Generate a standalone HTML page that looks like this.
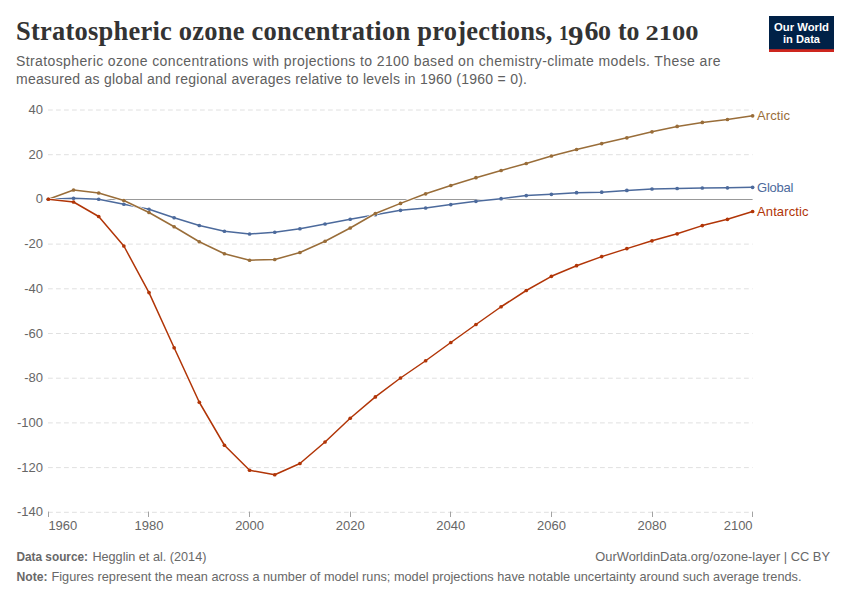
<!DOCTYPE html>
<html><head><meta charset="utf-8"><title>Stratospheric ozone concentration projections, 1960 to 2100</title>
<style>
html,body{margin:0;padding:0;background:#fff;}
body{width:850px;height:600px;overflow:hidden;font-family:"Liberation Sans",sans-serif;}
svg{display:block;}
text{font-family:"Liberation Sans",sans-serif;}
.serif text{font-family:"Liberation Serif",serif;}
</style></head><body>
<svg width="850" height="600" viewBox="0 0 850 600">
<rect width="850" height="600" fill="#fff"/>
<g class="serif" font-weight="bold" fill="#333" font-size="26.5">
<text x="16" y="40" textLength="536.4" lengthAdjust="spacing">Stratospheric ozone concentration projections,</text>
<text x="559" y="40" font-size="20" textLength="9.5" lengthAdjust="spacingAndGlyphs">1</text>
<text x="568" y="44.5" textLength="15.5" lengthAdjust="spacingAndGlyphs">9</text>
<text x="584.5" y="40" textLength="14" lengthAdjust="spacingAndGlyphs">6</text>
<text x="598" y="40" font-size="20" textLength="13" lengthAdjust="spacingAndGlyphs">0</text>
<text x="618" y="40" textLength="21.5" lengthAdjust="spacingAndGlyphs">to</text>
<text x="645.5" y="40" font-size="20" textLength="53" lengthAdjust="spacingAndGlyphs">2100</text>
</g>
<g font-size="14" fill="#606060">
<text x="16" y="66" textLength="704.5" lengthAdjust="spacing">Stratospheric ozone concentrations with projections to 2100 based on chemistry-climate models. These are</text>
<text x="16" y="84" textLength="511" lengthAdjust="spacing">measured as global and regional averages relative to levels in 1960 (1960 = 0).</text>
</g>
<!-- logo -->
<rect x="769" y="16" width="65" height="36" fill="#002147"/>
<rect x="769" y="49.2" width="65" height="2.8" fill="#ce261e"/>
<g font-size="11.6" font-weight="bold" fill="#fff" text-anchor="middle">
<text x="801.5" y="31" textLength="55" lengthAdjust="spacingAndGlyphs">Our World</text>
<text x="801.5" y="43" textLength="37" lengthAdjust="spacingAndGlyphs">in Data</text>
</g>
<!-- grid -->
<line x1="48" x2="752.6" y1="110.0" y2="110.0" stroke="#e0e0e0" stroke-width="1" stroke-dasharray="4.8,3.2"/>
<line x1="48" x2="752.6" y1="154.7" y2="154.7" stroke="#e0e0e0" stroke-width="1" stroke-dasharray="4.8,3.2"/>
<line x1="48" x2="752.6" y1="199.5" y2="199.5" stroke="#999" stroke-width="1"/>
<line x1="48" x2="752.6" y1="244.1" y2="244.1" stroke="#e0e0e0" stroke-width="1" stroke-dasharray="4.8,3.2"/>
<line x1="48" x2="752.6" y1="288.8" y2="288.8" stroke="#e0e0e0" stroke-width="1" stroke-dasharray="4.8,3.2"/>
<line x1="48" x2="752.6" y1="333.5" y2="333.5" stroke="#e0e0e0" stroke-width="1" stroke-dasharray="4.8,3.2"/>
<line x1="48" x2="752.6" y1="378.2" y2="378.2" stroke="#e0e0e0" stroke-width="1" stroke-dasharray="4.8,3.2"/>
<line x1="48" x2="752.6" y1="422.9" y2="422.9" stroke="#e0e0e0" stroke-width="1" stroke-dasharray="4.8,3.2"/>
<line x1="48" x2="752.6" y1="467.6" y2="467.6" stroke="#e0e0e0" stroke-width="1" stroke-dasharray="4.8,3.2"/>
<line x1="48" x2="752.6" y1="512.3" y2="512.3" stroke="#e0e0e0" stroke-width="1" stroke-dasharray="4.8,3.2"/>

<g font-size="13" fill="#666">
<text x="43" y="114.0" text-anchor="end">40</text>
<text x="43" y="158.7" text-anchor="end">20</text>
<text x="43" y="203.4" text-anchor="end">0</text>
<text x="43" y="248.1" text-anchor="end">-20</text>
<text x="43" y="292.8" text-anchor="end">-40</text>
<text x="43" y="337.5" text-anchor="end">-60</text>
<text x="43" y="382.2" text-anchor="end">-80</text>
<text x="43" y="426.9" text-anchor="end">-100</text>
<text x="43" y="471.6" text-anchor="end">-120</text>
<text x="43" y="516.3" text-anchor="end">-140</text>

<line x1="48.5" x2="48.5" y1="511.6" y2="517" stroke="#a3a3a3" stroke-width="1"/>
<text x="48.4" y="530" text-anchor="start">1960</text>
<line x1="148.5" x2="148.5" y1="511.6" y2="517" stroke="#a3a3a3" stroke-width="1"/>
<text x="149.0" y="530" text-anchor="middle">1980</text>
<line x1="249.5" x2="249.5" y1="511.6" y2="517" stroke="#a3a3a3" stroke-width="1"/>
<text x="249.6" y="530" text-anchor="middle">2000</text>
<line x1="350.5" x2="350.5" y1="511.6" y2="517" stroke="#a3a3a3" stroke-width="1"/>
<text x="350.2" y="530" text-anchor="middle">2020</text>
<line x1="450.5" x2="450.5" y1="511.6" y2="517" stroke="#a3a3a3" stroke-width="1"/>
<text x="450.8" y="530" text-anchor="middle">2040</text>
<line x1="551.5" x2="551.5" y1="511.6" y2="517" stroke="#a3a3a3" stroke-width="1"/>
<text x="551.4" y="530" text-anchor="middle">2060</text>
<line x1="652.5" x2="652.5" y1="511.6" y2="517" stroke="#a3a3a3" stroke-width="1"/>
<text x="652.0" y="530" text-anchor="middle">2080</text>
<line x1="752.5" x2="752.5" y1="511.6" y2="517" stroke="#a3a3a3" stroke-width="1"/>
<text x="752.6" y="530" text-anchor="end">2100</text>

</g>
<polyline fill="none" stroke="#fff" stroke-width="3" stroke-linejoin="round" stroke-linecap="round" points="48.4,199.25 73.55,198.25 98.7,199.25 123.85,204.25 149.0,209.25 174.15,217.75 199.3,225.5 224.45,231.25 249.6,234 274.75,232.25 299.9,228.75 325.05,224 350.2,219.25 375.35,214.75 400.5,210.3 425.65,208 450.8,204.6 475.95,201.3 501.1,198.7 526.25,195.6 551.4,194.3 576.55,192.7 601.7,192.2 626.85,190.4 652.0,189.0 677.15,188.5 702.3,188 727.45,187.8 752.6,187.3"/>
<polyline fill="none" stroke="#4c6a9c" stroke-width="1.5" stroke-linejoin="round" stroke-linecap="round" points="48.4,199.25 73.55,198.25 98.7,199.25 123.85,204.25 149.0,209.25 174.15,217.75 199.3,225.5 224.45,231.25 249.6,234 274.75,232.25 299.9,228.75 325.05,224 350.2,219.25 375.35,214.75 400.5,210.3 425.65,208 450.8,204.6 475.95,201.3 501.1,198.7 526.25,195.6 551.4,194.3 576.55,192.7 601.7,192.2 626.85,190.4 652.0,189.0 677.15,188.5 702.3,188 727.45,187.8 752.6,187.3"/>
<g fill="#4c6a9c"><circle cx="48.4" cy="199.25" r="1.85"/><circle cx="73.55" cy="198.25" r="1.85"/><circle cx="98.7" cy="199.25" r="1.85"/><circle cx="123.85" cy="204.25" r="1.85"/><circle cx="149.0" cy="209.25" r="1.85"/><circle cx="174.15" cy="217.75" r="1.85"/><circle cx="199.3" cy="225.5" r="1.85"/><circle cx="224.45" cy="231.25" r="1.85"/><circle cx="249.6" cy="234" r="1.85"/><circle cx="274.75" cy="232.25" r="1.85"/><circle cx="299.9" cy="228.75" r="1.85"/><circle cx="325.05" cy="224" r="1.85"/><circle cx="350.2" cy="219.25" r="1.85"/><circle cx="375.35" cy="214.75" r="1.85"/><circle cx="400.5" cy="210.3" r="1.85"/><circle cx="425.65" cy="208" r="1.85"/><circle cx="450.8" cy="204.6" r="1.85"/><circle cx="475.95" cy="201.3" r="1.85"/><circle cx="501.1" cy="198.7" r="1.85"/><circle cx="526.25" cy="195.6" r="1.85"/><circle cx="551.4" cy="194.3" r="1.85"/><circle cx="576.55" cy="192.7" r="1.85"/><circle cx="601.7" cy="192.2" r="1.85"/><circle cx="626.85" cy="190.4" r="1.85"/><circle cx="652.0" cy="189.0" r="1.85"/><circle cx="677.15" cy="188.5" r="1.85"/><circle cx="702.3" cy="188" r="1.85"/><circle cx="727.45" cy="187.8" r="1.85"/><circle cx="752.6" cy="187.3" r="1.85"/></g>

<polyline fill="none" stroke="#fff" stroke-width="3" stroke-linejoin="round" stroke-linecap="round" points="48.4,199.25 73.55,190 98.7,193 123.85,200.5 149.0,212.5 174.15,226.75 199.3,241.75 224.45,253.75 249.6,260.25 274.75,259.5 299.9,252.5 325.05,241.25 350.2,228 375.35,213.5 400.5,203.4 425.65,193.8 450.8,185.5 475.95,177.7 501.1,170.5 526.25,163.5 551.4,156 576.55,149.5 601.7,143.6 626.85,137.8 652.0,131.8 677.15,126.4 702.3,122.4 727.45,119.5 752.6,115.8"/>
<polyline fill="none" stroke="#996d39" stroke-width="1.5" stroke-linejoin="round" stroke-linecap="round" points="48.4,199.25 73.55,190 98.7,193 123.85,200.5 149.0,212.5 174.15,226.75 199.3,241.75 224.45,253.75 249.6,260.25 274.75,259.5 299.9,252.5 325.05,241.25 350.2,228 375.35,213.5 400.5,203.4 425.65,193.8 450.8,185.5 475.95,177.7 501.1,170.5 526.25,163.5 551.4,156 576.55,149.5 601.7,143.6 626.85,137.8 652.0,131.8 677.15,126.4 702.3,122.4 727.45,119.5 752.6,115.8"/>
<g fill="#996d39"><circle cx="48.4" cy="199.25" r="1.85"/><circle cx="73.55" cy="190" r="1.85"/><circle cx="98.7" cy="193" r="1.85"/><circle cx="123.85" cy="200.5" r="1.85"/><circle cx="149.0" cy="212.5" r="1.85"/><circle cx="174.15" cy="226.75" r="1.85"/><circle cx="199.3" cy="241.75" r="1.85"/><circle cx="224.45" cy="253.75" r="1.85"/><circle cx="249.6" cy="260.25" r="1.85"/><circle cx="274.75" cy="259.5" r="1.85"/><circle cx="299.9" cy="252.5" r="1.85"/><circle cx="325.05" cy="241.25" r="1.85"/><circle cx="350.2" cy="228" r="1.85"/><circle cx="375.35" cy="213.5" r="1.85"/><circle cx="400.5" cy="203.4" r="1.85"/><circle cx="425.65" cy="193.8" r="1.85"/><circle cx="450.8" cy="185.5" r="1.85"/><circle cx="475.95" cy="177.7" r="1.85"/><circle cx="501.1" cy="170.5" r="1.85"/><circle cx="526.25" cy="163.5" r="1.85"/><circle cx="551.4" cy="156" r="1.85"/><circle cx="576.55" cy="149.5" r="1.85"/><circle cx="601.7" cy="143.6" r="1.85"/><circle cx="626.85" cy="137.8" r="1.85"/><circle cx="652.0" cy="131.8" r="1.85"/><circle cx="677.15" cy="126.4" r="1.85"/><circle cx="702.3" cy="122.4" r="1.85"/><circle cx="727.45" cy="119.5" r="1.85"/><circle cx="752.6" cy="115.8" r="1.85"/></g>

<polyline fill="none" stroke="#fff" stroke-width="3" stroke-linejoin="round" stroke-linecap="round" points="48.4,199.25 73.55,202 98.7,216.5 123.85,246 149.0,292.6 174.15,347.75 199.3,402.25 224.45,445.25 249.6,470.25 274.75,474.75 299.9,463.5 325.05,442 350.2,418.25 375.35,396.9 400.5,378 425.65,360.75 450.8,342.5 475.95,324.5 501.1,306.75 526.25,290.5 551.4,276.3 576.55,265.7 601.7,256.6 626.85,248.6 652.0,240.8 677.15,233.8 702.3,225.6 727.45,219.3 752.6,211.5"/>
<polyline fill="none" stroke="#b13507" stroke-width="1.5" stroke-linejoin="round" stroke-linecap="round" points="48.4,199.25 73.55,202 98.7,216.5 123.85,246 149.0,292.6 174.15,347.75 199.3,402.25 224.45,445.25 249.6,470.25 274.75,474.75 299.9,463.5 325.05,442 350.2,418.25 375.35,396.9 400.5,378 425.65,360.75 450.8,342.5 475.95,324.5 501.1,306.75 526.25,290.5 551.4,276.3 576.55,265.7 601.7,256.6 626.85,248.6 652.0,240.8 677.15,233.8 702.3,225.6 727.45,219.3 752.6,211.5"/>
<g fill="#b13507"><circle cx="48.4" cy="199.25" r="1.85"/><circle cx="73.55" cy="202" r="1.85"/><circle cx="98.7" cy="216.5" r="1.85"/><circle cx="123.85" cy="246" r="1.85"/><circle cx="149.0" cy="292.6" r="1.85"/><circle cx="174.15" cy="347.75" r="1.85"/><circle cx="199.3" cy="402.25" r="1.85"/><circle cx="224.45" cy="445.25" r="1.85"/><circle cx="249.6" cy="470.25" r="1.85"/><circle cx="274.75" cy="474.75" r="1.85"/><circle cx="299.9" cy="463.5" r="1.85"/><circle cx="325.05" cy="442" r="1.85"/><circle cx="350.2" cy="418.25" r="1.85"/><circle cx="375.35" cy="396.9" r="1.85"/><circle cx="400.5" cy="378" r="1.85"/><circle cx="425.65" cy="360.75" r="1.85"/><circle cx="450.8" cy="342.5" r="1.85"/><circle cx="475.95" cy="324.5" r="1.85"/><circle cx="501.1" cy="306.75" r="1.85"/><circle cx="526.25" cy="290.5" r="1.85"/><circle cx="551.4" cy="276.3" r="1.85"/><circle cx="576.55" cy="265.7" r="1.85"/><circle cx="601.7" cy="256.6" r="1.85"/><circle cx="626.85" cy="248.6" r="1.85"/><circle cx="652.0" cy="240.8" r="1.85"/><circle cx="677.15" cy="233.8" r="1.85"/><circle cx="702.3" cy="225.6" r="1.85"/><circle cx="727.45" cy="219.3" r="1.85"/><circle cx="752.6" cy="211.5" r="1.85"/></g>

<g font-size="13">
<text x="757" y="120" fill="#996d39" textLength="33" lengthAdjust="spacing">Arctic</text>
<text x="757" y="192" fill="#4c6a9c" textLength="36.5" lengthAdjust="spacing">Global</text>
<text x="757" y="216.2" fill="#b13507" textLength="51.5" lengthAdjust="spacing">Antarctic</text>
</g>
<g font-size="13" fill="#686868">
<text x="16.5" y="561"><tspan font-weight="bold" textLength="71.5" lengthAdjust="spacingAndGlyphs">Data source:</tspan></text>
<text x="92.4" y="561" textLength="114" lengthAdjust="spacingAndGlyphs">Hegglin et al. (2014)</text>
<text x="830" y="561" text-anchor="end" textLength="234.7" lengthAdjust="spacingAndGlyphs">OurWorldinData.org/ozone-layer | CC BY</text>
<text x="16.5" y="580.5"><tspan font-weight="bold" textLength="31" lengthAdjust="spacingAndGlyphs">Note:</tspan></text>
<text x="51.5" y="580.5" textLength="750" lengthAdjust="spacingAndGlyphs">Figures represent the mean across a number of model runs; model projections have notable uncertainty around such average trends.</text>
</g>
</svg>
</body></html>
